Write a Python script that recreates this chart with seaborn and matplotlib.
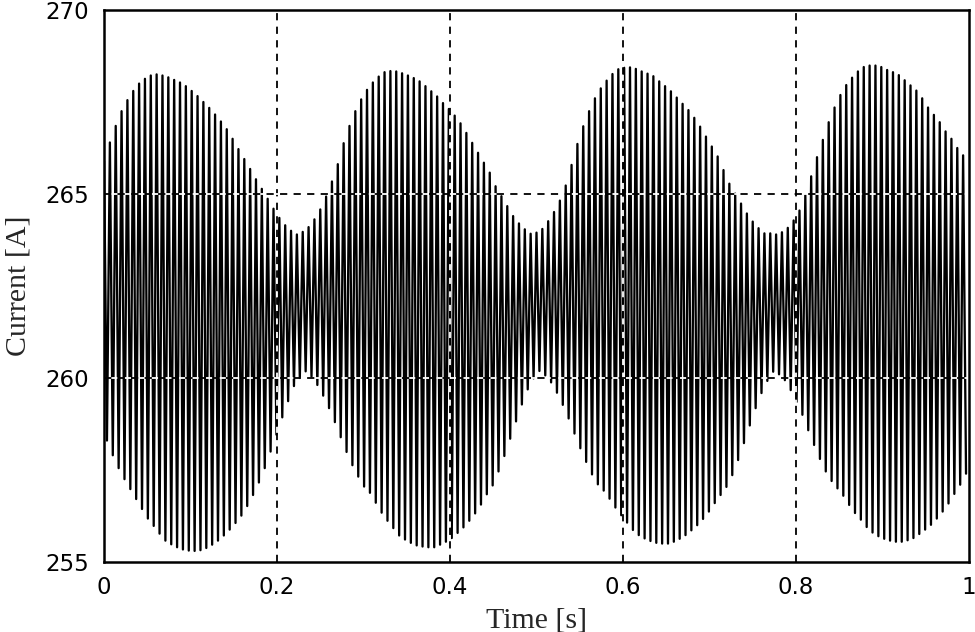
import numpy as np
import pandas as pd
import matplotlib
matplotlib.use("Agg")
import matplotlib.pyplot as plt
import seaborn as sns

# ---- data ----
n_cycles = 148          # ripple cycles in 1 s
duration = 1.0          # s

# peak (max) value of each ripple cycle [A]
upper_peaks = [
    265.9, 266.4, 266.85, 267.25, 267.55, 267.8, 268.0, 268.13, 268.22, 268.25,
    268.22, 268.17, 268.1, 268.03, 267.93, 267.8, 267.66, 267.5, 267.34, 267.16,
    266.97, 266.76, 266.5, 266.22, 265.95, 265.68, 265.4, 265.14, 264.87, 264.6,
    264.35, 264.15, 264.0, 263.9,
    263.97, 264.1, 264.31, 264.58, 264.93, 265.34, 265.81, 266.38, 266.85, 267.25,
    267.57, 267.83, 268.03, 268.19, 268.31, 268.34, 268.33, 268.28, 268.22, 268.15,
    268.06, 267.93, 267.79, 267.65, 267.47, 267.31, 267.13, 266.92, 266.66, 266.39,
    266.12, 265.85, 265.58, 265.21, 264.94, 264.67, 264.4, 264.2, 264.04, 263.92,
    263.95, 264.05, 264.26, 264.51, 264.82, 265.23, 265.79, 266.36, 266.84, 267.25,
    267.6, 267.87, 268.08, 268.26, 268.39, 268.43, 268.44, 268.4, 268.33, 268.27,
    268.2, 268.06, 267.93, 267.79, 267.62, 267.45, 267.28, 267.07, 266.83, 266.56,
    266.29, 266.02, 265.65, 265.28, 265.01, 264.74, 264.47, 264.25, 264.07, 263.93,
    263.93, 263.9, 263.96, 264.08, 264.28, 264.55, 264.97, 265.48, 266.0, 266.47,
    266.95, 267.35, 267.69, 267.96, 268.16, 268.33, 268.45, 268.49, 268.49, 268.45,
    268.37, 268.31, 268.23, 268.09, 267.95, 267.81, 267.6, 267.35, 267.15, 266.95,
    266.7, 266.5, 266.25, 266.05,
]

# trough (min) value of each ripple cycle [A]
lower_troughs = [
    258.3, 257.9, 257.55, 257.25, 256.98, 256.71, 256.44, 256.18, 255.98, 255.77,
    255.58, 255.48, 255.4, 255.34, 255.31, 255.3, 255.32, 255.38, 255.47, 255.58,
    255.72, 255.88, 256.06, 256.26, 256.52, 256.82, 257.16, 257.55, 258.0, 258.46,
    258.93, 259.37, 259.78, 260.0,
    260.18, 260.04, 259.81, 259.52, 259.18, 258.8, 258.39, 257.99, 257.63, 257.32,
    257.05, 256.88, 256.61, 256.34, 256.12, 255.92, 255.72, 255.61, 255.52, 255.45,
    255.42, 255.4, 255.4, 255.47, 255.55, 255.65, 255.79, 255.94, 256.12, 256.32,
    256.56, 256.84, 257.08, 257.46, 257.88, 258.35, 258.82, 259.28, 259.69, 259.99,
    260.19,
    260.07, 259.88, 259.6, 259.27, 258.9, 258.49, 258.09, 257.72, 257.38, 257.11,
    256.94, 256.72, 256.48, 256.27, 256.07, 255.87, 255.73, 255.64, 255.57, 255.52,
    255.5, 255.5, 255.55, 255.63, 255.73, 255.86, 256.0, 256.17, 256.37, 256.6,
    256.82, 257.04, 257.36, 257.77, 258.23, 258.71, 259.18, 259.59, 259.92, 260.17,
    260.1, 259.94, 259.67, 259.35, 259.0, 258.58, 258.18, 257.8, 257.46, 257.2,
    257.0, 256.8, 256.55, 256.33, 256.15, 255.95, 255.8, 255.7, 255.63, 255.58,
    255.55, 255.55, 255.59, 255.65, 255.76, 255.88, 256.01, 256.18, 256.37, 256.59,
    256.85, 257.1, 257.4,
]

x_ticks = [0, 0.2, 0.4, 0.6, 0.8, 1]
x_tick_labels = ["0", "0.2", "0.4", "0.6", "0.8", "1"]
y_ticks = [255, 260, 265, 270]
y_tick_labels = ["255", "260", "265", "270"]

# ---- build the series (peak, trough, peak, trough, ...) ----
period = duration / n_cycles
t_up = np.arange(n_cycles) * period
t_dn = t_up + period / 2
time = np.empty(2 * n_cycles)
current = np.empty(2 * n_cycles)
time[0::2], time[1::2] = t_up, t_dn
current[0::2], current[1::2] = upper_peaks, lower_troughs
df = pd.DataFrame({"Time": time, "Current": current})

# ---- plot ----
sns.set_style("white")
plt.rcParams["font.family"] = ["Liberation Serif", "DejaVu Serif"]

fig = plt.figure(figsize=(9.75, 6.32), dpi=100)
ax = fig.add_axes([0.1067, 0.1108, 0.8871, 0.8734])

sns.lineplot(data=df, x="Time", y="Current", ax=ax, color="black",
             linewidth=1.65, estimator=None, sort=False, zorder=2)

ax.set_xlim(0, 1)
ax.set_ylim(255, 270)
ax.set_xticks(x_ticks)
ax.set_xticklabels(x_tick_labels, family="DejaVu Sans", fontsize=16.5)
ax.set_yticks(y_ticks)
ax.set_yticklabels(y_tick_labels, family="DejaVu Sans", fontsize=16.5)
ax.tick_params(axis="x", length=0, pad=10, colors="black")
ax.tick_params(axis="y", length=0, pad=11, colors="black")

for xv in x_ticks[1:-1]:
    ax.axvline(xv, color="black", linewidth=1.3, linestyle=(0, (4, 3.5)),
               gapcolor="white", zorder=3)
for yv in y_ticks[1:-1]:
    ax.axhline(yv, color="black", linewidth=1.3, linestyle=(0, (4, 3.5)),
               gapcolor="white", zorder=3)

for s in ax.spines.values():
    s.set_color("black")
    s.set_linewidth(1.8)
    s.set_zorder(4)

ax.set_xlabel("Time [s]", fontsize=21.5, labelpad=6)
ax.set_ylabel("Current [A]", fontsize=21.5, labelpad=10)

fig.savefig("out.png", dpi=100)
